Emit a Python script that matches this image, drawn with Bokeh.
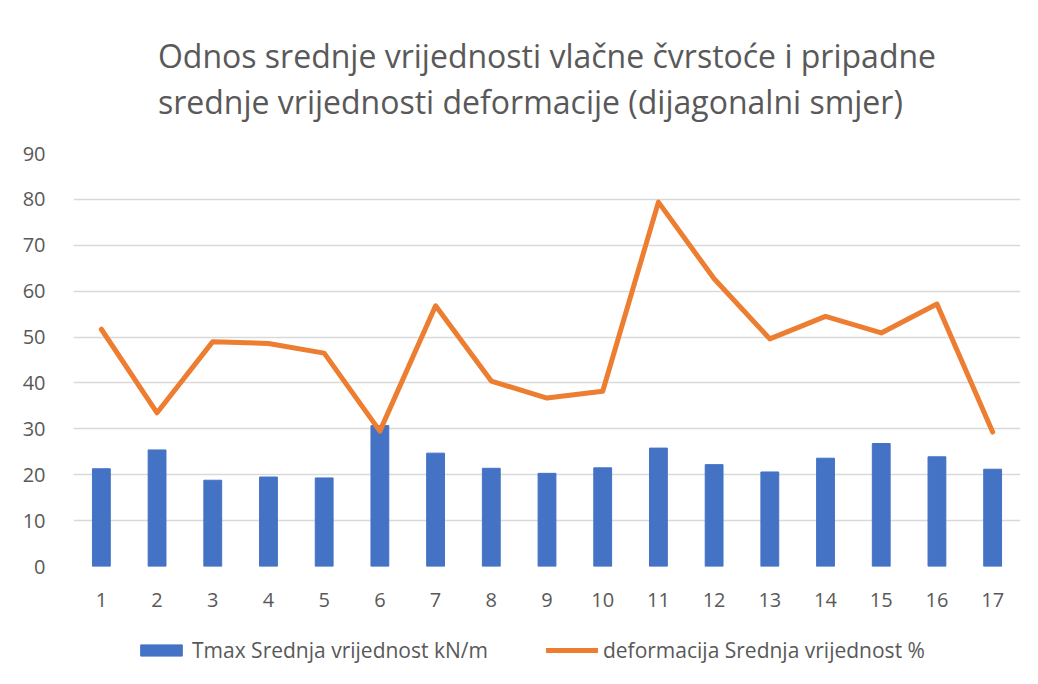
from bokeh.plotting import figure
from bokeh.models import Range1d, FactorRange, Legend, LegendItem
from bokeh.layouts import column
from bokeh.embed import file_html
from bokeh.resources import INLINE

categories = [str(i) for i in range(1, 18)]
tmax = [21.3, 25.4, 18.8, 19.5, 19.3, 30.7, 24.7, 21.4, 20.3, 21.5, 25.8, 22.2, 20.6, 23.6, 26.8, 23.9, 21.2]
deformacija = [51.7, 33.5, 49.0, 48.6, 46.5, 29.5, 56.8, 40.4, 36.7, 38.2, 79.4, 62.7, 49.6, 54.5, 50.9, 57.2, 29.3]
y_ticks = [0, 10, 20, 30, 40, 50, 60, 70, 80, 90]
series_names = ["Tmax Srednja vrijednost kN/m", "deformacija Srednja vrijednost %"]
title_text = "Odnos srednje vrijednosti vlačne čvrstoće i pripadne\nsrednje vrijednosti deformacije (dijagonalni smjer)"

FONT = "Open Sans"
GREY = "#595959"
BLUE = "#4472C4"
ORANGE = "#ED7D31"

p = figure(width=1036, height=630, x_range=FactorRange(*categories, range_padding=0),
           y_range=Range1d(0, 90), output_backend="svg", toolbar_location=None,
           min_border_left=73, min_border_right=16, min_border_top=153, min_border_bottom=64)
p.x_range.factor_padding = 0

bars = p.vbar(x=categories, top=tmax, width=0.32, color=BLUE)
line = p.line(x=categories, y=deformacija, line_color=ORANGE, line_width=5,
              line_join="round", line_cap="round")

p.yaxis.ticker = y_ticks
for ax in (p.xaxis[0], p.yaxis[0]):
    ax.axis_line_color = None
    ax.major_tick_line_color = None
    ax.minor_tick_line_color = None
    ax.major_label_text_font = FONT
    ax.major_label_text_font_size = "20px"
    ax.major_label_text_color = GREY
p.xaxis.major_label_standoff = 20
p.yaxis.major_label_standoff = 22
p.xgrid.grid_line_color = None
p.ygrid.grid_line_color = "#d9d9d9"
p.ygrid.grid_line_width = 1.5
p.outline_line_color = None

p.title.text = title_text
p.title.align = "center"
p.title.text_font = FONT
p.title.text_font_size = "32px"
p.title.text_font_style = "normal"
p.title.text_color = GREY
p.title.text_line_height = 1.09
p.title.standoff = 60

# legend strip below the chart (proxy renderers sit outside the strip's visible range)
lg = figure(width=1036, height=52, x_range=Range1d(0, 1), y_range=Range1d(0, 1),
            output_backend="svg", toolbar_location=None,
            min_border_left=0, min_border_right=0, min_border_top=0, min_border_bottom=0)
lg.axis.visible = False
lg.grid.visible = False
lg.outline_line_color = None
lb = lg.vbar(x=[-5], top=[-5], width=0.32, color=BLUE)
ll = lg.line(x=[-5, -4], y=[-5, -5], line_color=ORANGE, line_width=5, line_cap="round")
legend = Legend(items=[LegendItem(label=series_names[0], renderers=[lb]),
                       LegendItem(label=series_names[1], renderers=[ll])],
                orientation="horizontal", location=(62, 18), border_line_color=None,
                background_fill_alpha=0,
                label_text_font=FONT, label_text_font_size="21px", label_text_color=GREY,
                glyph_width=52, glyph_height=14, spacing=58, margin=0, padding=0,
                label_standoff=5)
lg.add_layout(legend)

layout = column(p, lg, spacing=0)
open("out.html", "w").write(file_html(layout, INLINE))
